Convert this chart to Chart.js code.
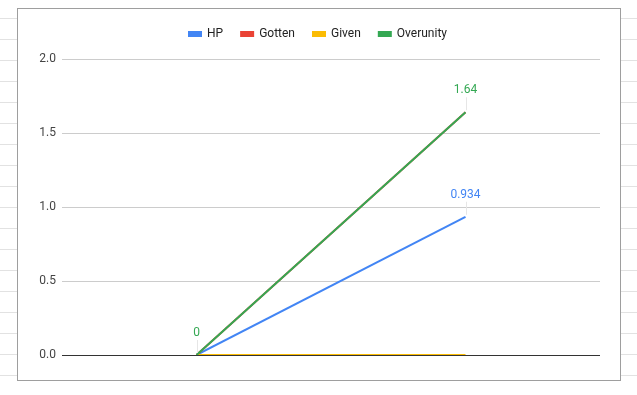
<!DOCTYPE html>
<html>
<head>
    <meta charset="utf-8">
    <title>Overunity</title>
    <script src="https://cdn.jsdelivr.net/npm/chart.js@4.4.0/dist/chart.umd.min.js"></script>
    <style>
        body {
            margin: 0;
            width: 637px;
            height: 395px;
            overflow: hidden;
            background: repeating-linear-gradient(to bottom, transparent 0 20px, #e2e2e2 20px 21px);
            background-position: 0 -2px;
        }
        #box {
            position: absolute;
            left: 17px;
            top: 8px;
            width: 602px;
            height: 371px;
            border: 1px solid #9e9e9e;
            background: #fff;
        }
    </style>
</head>
<body>
    <div id="box">
        <canvas id="myChart" width="602" height="371"></canvas>
    </div>
    <script>
        // data
        const labels = ['', ''];
        const hp = [0, 0.934];
        const gotten = [0, 1.64];
        const given = [0, 0];
        const overunity = [0, 1.64];
        const yTicks = [0, 0.5, 1.0, 1.5, 2.0];

        // point labels drawn above the line ends, with a thin leader line
        const pointLabels = {
            id: 'pointLabels',
            afterDatasetsDraw(chart) {
                const ctx = chart.ctx;
                chart.data.datasets.forEach((ds, i) => {
                    if (!ds.showLabels) return;
                    const meta = chart.getDatasetMeta(i);
                    ds.showLabels.forEach(j => {
                        const pt = meta.data[j];
                        ctx.save();
                        ctx.strokeStyle = '#e6e6e6';
                        ctx.lineWidth = 1;
                        ctx.beginPath();
                        ctx.moveTo(Math.round(pt.x) + 0.5, pt.y - 2);
                        ctx.lineTo(Math.round(pt.x) + 0.5, pt.y - 15);
                        ctx.stroke();
                        ctx.fillStyle = ds.borderColor;
                        ctx.font = '12px Roboto';
                        ctx.textAlign = 'center';
                        ctx.textBaseline = 'middle';
                        ctx.fillText(String(ds.data[j]), pt.x, pt.y - 22);
                        ctx.restore();
                    });
                });
            }
        };

        // fixed legend height, and centre the row without its trailing padding
        const legendFit = {
            id: 'legendFit',
            beforeInit(chart) {
                const fit = chart.legend.fit;
                chart.legend.fit = function () {
                    fit.call(this);
                    this.height = 49;
                    if (this.lineWidths) {
                        this.lineWidths = this.lineWidths.map(w => w - this.options.labels.padding);
                    }
                };
            }
        };

        // order: later series are drawn on top, as in the sheet
        const line = (label, data, color, order, show) => ({
            label: label,
            data: data,
            borderColor: color,
            backgroundColor: color,
            borderWidth: 2,
            pointRadius: 0,
            fill: false,
            tension: 0,
            order: order,
            showLabels: show
        });

        const config = {
            type: 'line',
            data: {
                labels: labels,
                datasets: [
                    line('HP', hp, '#4285f4', 3, [1]),
                    line('Gotten', gotten, '#ea4335', 2, null),
                    line('Given', given, '#fbbc04', 1, null),
                    line('Overunity', overunity, '#34a853', 0, [0, 1])
                ]
            },
            options: {
                responsive: false,
                animation: false,
                layout: { padding: { top: 1, right: 20, bottom: 17, left: 0 } },
                plugins: {
                    legend: {
                        position: 'top',
                        labels: {
                            boxWidth: 12,
                            boxHeight: 4,
                            padding: 18,
                            color: '#222',
                            font: { family: 'Roboto', size: 12 },
                            sort: (a, b) => a.datasetIndex - b.datasetIndex
                        }
                    },
                    tooltip: { enabled: false }
                },
                scales: {
                    x: {
                        offset: true,
                        ticks: { display: false },
                        grid: { display: false },
                        border: { display: false }
                    },
                    y: {
                        min: 0,
                        max: 2,
                        afterFit(scale) { scale.width = 44; },
                        afterBuildTicks(scale) { scale.ticks = yTicks.map(v => ({ value: v })); },
                        ticks: {
                            padding: 6,
                            color: '#444',
                            font: { family: 'Roboto', size: 12 },
                            callback: v => v.toFixed(1)
                        },
                        grid: {
                            drawTicks: false,
                            color: ctx => ctx.tick && ctx.tick.value === 0 ? '#333' : '#cccccc'
                        },
                        border: { display: false }
                    }
                }
            },
            plugins: [pointLabels, legendFit]
        };

        const myChart = new Chart(document.getElementById('myChart'), config);
    </script>
</body>
</html>
